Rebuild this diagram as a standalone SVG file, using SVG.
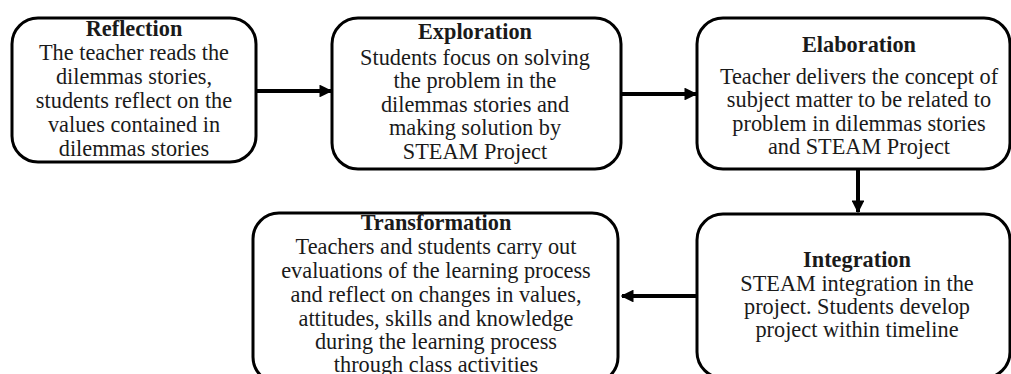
<svg xmlns="http://www.w3.org/2000/svg" width="1011" height="374" viewBox="0 0 1011 374">
<defs>
<style>
.box{fill:#fff;stroke:#000;stroke-width:3}
.t{font-family:"Liberation Serif","DejaVu Serif",serif;font-size:22.3px;fill:#1a1a1a;text-anchor:middle}
.b{font-weight:bold}
.c{stroke:#000;stroke-width:4;fill:none}
</style>
<marker id="ah" viewBox="0 0 10 10" refX="9" refY="5" markerWidth="3.2" markerHeight="3.2" markerUnits="strokeWidth" orient="auto">
<path d="M0,0 L10,5 L0,10 Z" fill="#000"/>
</marker>
</defs>
<rect width="1011" height="374" fill="#fff"/>
<g id="connectors">
<line class="c" x1="256" y1="91" x2="331" y2="91" marker-end="url(#ah)"/>
<line class="c" x1="621" y1="94" x2="696" y2="94" marker-end="url(#ah)"/>
<line class="c" x1="858" y1="169" x2="858" y2="212" marker-end="url(#ah)"/>
<line class="c" x1="697" y1="296" x2="622" y2="296" marker-end="url(#ah)"/>
</g>
<g id="reflection">
<rect class="box" x="12" y="18" width="244" height="144" rx="26"/>
<text class="t b" x="134" y="36">Reflection</text>
<text class="t" x="134" y="60">The teacher reads the</text>
<text class="t" x="134" y="84">dilemmas stories,</text>
<text class="t" x="134" y="108">students reflect on the</text>
<text class="t" x="134" y="132">values contained in</text>
<text class="t" x="134" y="156">dilemmas stories</text>
</g>
<g id="exploration">
<rect class="box" x="332" y="18" width="289" height="151" rx="26"/>
<text class="t b" x="475" y="39">Exploration</text>
<text class="t" x="475" y="65">Students focus on solving</text>
<text class="t" x="475" y="88">the problem in the</text>
<text class="t" x="475" y="112">dilemmas stories and</text>
<text class="t" x="475" y="135">making solution by</text>
<text class="t" x="475" y="159">STEAM Project</text>
</g>
<g id="elaboration">
<rect class="box" x="697" y="18" width="313" height="151" rx="26"/>
<text class="t b" x="859" y="52">Elaboration</text>
<text class="t" x="859" y="84">Teacher delivers the concept of</text>
<text class="t" x="859" y="107">subject matter to be related to</text>
<text class="t" x="859" y="131">problem in dilemmas stories</text>
<text class="t" x="859" y="154">and STEAM Project</text>
</g>
<g id="integration">
<rect class="box" x="697" y="214" width="313" height="164" rx="26"/>
<text class="t b" x="857" y="267">Integration</text>
<text class="t" x="857" y="291">STEAM integration in the</text>
<text class="t" x="857" y="314">project. Students develop</text>
<text class="t" x="857" y="337">project within timeline</text>
</g>
<g id="transformation">
<rect class="box" x="253" y="213" width="365" height="170" rx="26"/>
<text class="t b" x="436" y="230">Transformation</text>
<text class="t" x="436" y="254">Teachers and students carry out</text>
<text class="t" x="436" y="278">evaluations of the learning process</text>
<text class="t" x="436" y="302">and reflect on changes in values,</text>
<text class="t" x="436" y="326">attitudes, skills and knowledge</text>
<text class="t" x="436" y="349">during the learning process</text>
<text class="t" x="436" y="372">through class activities</text>
</g>
</svg>
